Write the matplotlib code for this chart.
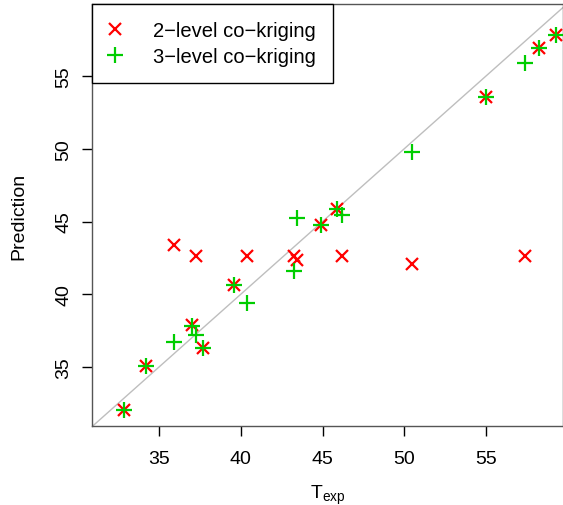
import matplotlib
matplotlib.use('Agg')
import matplotlib.pyplot as plt

plt.rcParams['font.family'] = ['Liberation Sans', 'DejaVu Sans']
plt.rcParams['mathtext.fontset'] = 'custom'
plt.rcParams['mathtext.rm'] = 'Liberation Sans'
plt.rcParams['mathtext.it'] = 'Liberation Sans'

# 実験値と予測値 (2段階 / 3段階 co-kriging)
t_exp = [32.86, 34.2, 35.94, 37.04, 37.26, 37.71, 39.59, 40.4, 43.26, 43.46,
         44.89, 45.87, 46.2, 50.45, 55.0, 57.37, 58.26, 59.28]
pred_2level = [32.07, 35.09, 43.38, 37.89, 42.6, 36.3, 40.64, 42.6, 42.6, 42.37,
               44.76, 45.86, 42.65, 42.08, 53.58, 42.6, 56.9, 57.84]
pred_3level = [32.07, 35.09, 36.7, 37.8, 37.2, 36.3, 40.64, 39.38, 41.62, 45.22,
               44.76, 45.86, 45.45, 49.76, 53.58, 55.89, 56.9, 57.84]
xticks = [35, 40, 45, 50, 55]
yticks = [35, 40, 45, 50, 55]

W, H = 563, 506
fig = plt.figure(figsize=(W / 100, H / 100), dpi=100)
ax = fig.add_axes([92 / W, (H - 427) / H, (W - 92) / W, (427 - 5) / H])

ax.axline((0, 0), slope=1, color='#bebebe', lw=1, zorder=1)  # y=x の線
ax.plot(t_exp, pred_2level, 'x', color='#ff0000', ms=9, mew=1.6,
        ls='none', label='2\u2212level co\u2212kriging', zorder=2)
ax.plot(t_exp, pred_3level, '+', color='#00cd00', ms=12, mew=1.6,
        ls='none', label='3\u2212level co\u2212kriging', zorder=3)

ax.set_xlim(30.9, 59.71)
ax.set_ylim(30.945, 59.95)
ax.set_xticks(xticks)
ax.set_yticks(yticks)
ax.tick_params(direction='out', length=7, width=1, labelsize=14, pad=7)
ax.tick_params(axis='x', pad=10)
for lab in ax.get_yticklabels():
    lab.set_rotation(90)
    lab.set_va('center')
for s in ax.spines.values():
    s.set_color('#555555')
    s.set_linewidth(1)

ax.set_xlabel(r'$\mathregular{T_{exp}}$', fontsize=14, labelpad=12)
ax.set_ylabel('Prediction', fontsize=14, labelpad=20)

leg = ax.legend(loc='upper left', bbox_to_anchor=(0, 1), borderaxespad=0,
                fancybox=False, edgecolor='black', framealpha=1, fontsize=14.5,
                handlelength=0.6, handletextpad=1.6, borderpad=0.85,
                labelspacing=0.35)
leg.get_frame().set_linewidth(1)

fig.savefig('out.png', dpi=100)
